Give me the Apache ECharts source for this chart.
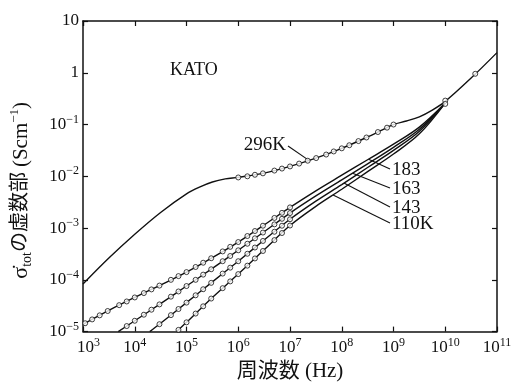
<!DOCTYPE html>
<html>
<head>
<meta charset="utf-8">
<script src="https://cdn.jsdelivr.net/npm/echarts@6/dist/echarts.min.js"></script>
<style>
  html, body { margin: 0; padding: 0; background: #fff; }
  #chart { width: 518px; height: 387px; }
</style>
</head>
<body>
<div id="chart"></div>
<script>
// ---- smooth curves: frequency (Hz) and imaginary part of sigma_tot (S/cm) ----
const curveFreq296  = [1e3, 3.16e3, 1e4, 3.16e4, 1e5, 1.78e5, 3.16e5, 5.62e5, 1e6, 3.16e6, 1e7, 3.16e7, 1e8, 3.16e8, 5.62e8, 1e9, 1.78e9, 3.16e9, 5.62e9, 1e10, 3.16e10, 1e11];
const curveSigma296 = [8.3e-5, 2.63e-4, 7.59e-4, 2.0e-3, 4.57e-3, 6.17e-3, 7.76e-3, 8.91e-3, 9.55e-3, 1.15e-2, 1.55e-2, 2.24e-2, 3.47e-2, 5.75e-2, 7.59e-2, 0.1, 0.117, 0.141, 0.19, 0.28, 0.79, 2.45];

const curveFreq183  = [1e3, 3.16e3, 1e4, 3.16e4, 1e5, 3.16e5, 1e6, 3.16e6, 1e7, 3.16e7, 1e8, 3.16e8, 1e9, 3.16e9, 1e10];
const curveSigma183 = [1.38e-5, 2.57e-5, 4.57e-5, 7.94e-5, 1.41e-4, 2.69e-4, 5.37e-4, 1.15e-3, 2.51e-3, 5.25e-3, 1.05e-2, 2.09e-2, 4.17e-2, 8.9e-2, 0.26];

const curveFreq163  = [4.8e3, 1e4, 3.16e4, 1e5, 3.16e5, 1e6, 3.16e6, 1e7, 3.16e7, 1e8, 3.16e8, 1e9, 3.16e9, 1e10];
const curveSigma163 = [1e-5, 1.62e-5, 3.47e-5, 7.59e-5, 1.66e-4, 3.72e-4, 8.51e-4, 1.95e-3, 4.17e-3, 8.51e-3, 1.74e-2, 3.63e-2, 8.13e-2, 0.26];

const curveFreq143  = [1.95e4, 3.16e4, 1e5, 3.16e5, 1e6, 3.16e6, 1e7, 3.16e7, 1e8, 3.16e8, 1e9, 3.16e9, 1e10];
const curveSigma143 = [1e-5, 1.45e-5, 3.63e-5, 9.12e-5, 2.29e-4, 5.89e-4, 1.48e-3, 3.31e-3, 6.92e-3, 1.48e-2, 3.16e-2, 7.41e-2, 0.26];

const curveFreq110  = [6.46e4, 1e5, 3.16e5, 1e6, 3.16e6, 1e7, 3.16e7, 1e8, 3.16e8, 1e9, 3.16e9, 1e10];
const curveSigma110 = [1e-5, 1.51e-5, 4.57e-5, 1.29e-4, 3.8e-4, 1.12e-3, 2.63e-3, 5.62e-3, 1.23e-2, 2.69e-2, 6.61e-2, 0.26];

// ---- measured points (open circles) ----
const markFreq296  = [1e6, 1.5e6, 2.1e6, 3e6, 5e6, 7e6, 1e7, 1.5e7, 2.2e7, 3.2e7, 5e7, 7e7, 1e8, 1.4e8, 2.1e8, 3e8, 5e8, 7.5e8, 1e9, 1e10, 3.8e10];
const markSigma296 = [9.5e-3, 1.0e-2, 1.07e-2, 1.14e-2, 1.29e-2, 1.41e-2, 1.55e-2, 1.76e-2, 2.0e-2, 2.25e-2, 2.63e-2, 3.02e-2, 3.47e-2, 3.98e-2, 4.79e-2, 5.62e-2, 7.16e-2, 8.7e-2, 0.1, 0.29, 0.955];

const markFreq183  = [1.1e3, 1.5e3, 2.1e3, 3e3, 5e3, 7e3, 1e4, 1.5e4, 2.1e4, 3e4, 5e4, 7e4, 1e5, 1.5e5, 2.1e5, 3e5, 5e5, 7e5, 1e6, 1.5e6, 2.1e6, 3e6, 5e6, 7e6, 1e7, 1e10];
const markSigma183 = [1.45e-5, 1.72e-5, 2.06e-5, 2.50e-5, 3.24e-5, 3.82e-5, 4.57e-5, 5.55e-5, 6.53e-5, 7.74e-5, 1.0e-4, 1.18e-4, 1.41e-4, 1.77e-4, 2.14e-4, 2.61e-4, 3.54e-4, 4.34e-4, 5.37e-4, 7.02e-4, 8.77e-4, 1.11e-3, 1.57e-3, 1.97e-3, 2.51e-3, 0.25];

const markFreq163  = [7e3, 1e4, 1.5e4, 2.1e4, 3e4, 5e4, 7e4, 1e5, 1.5e5, 2.1e5, 3e5, 5e5, 7e5, 1e6, 1.5e6, 2.1e6, 3e6, 5e6, 7e6, 1e7];
const markSigma163 = [1.28e-5, 1.62e-5, 2.12e-5, 2.65e-5, 3.35e-5, 4.73e-5, 5.96e-5, 7.59e-5, 1.0e-4, 1.26e-4, 1.60e-4, 2.29e-4, 2.89e-4, 3.72e-4, 4.98e-4, 6.34e-4, 8.19e-4, 1.18e-3, 1.51e-3, 1.95e-3];

const markFreq143  = [3e4, 5e4, 7e4, 1e5, 1.5e5, 2.1e5, 3e5, 5e5, 7e5, 1e6, 1.5e6, 2.1e6, 3e6, 5e6, 7e6, 1e7];
const markSigma143 = [1.39e-5, 2.08e-5, 2.73e-5, 3.63e-5, 5.02e-5, 6.58e-5, 8.75e-5, 1.32e-4, 1.72e-4, 2.29e-4, 3.19e-4, 4.21e-4, 5.64e-4, 8.49e-4, 1.11e-3, 1.48e-3];

const markFreq110  = [7e4, 1e5, 1.5e5, 2.1e5, 3e5, 5e5, 7e5, 1e6, 1.5e6, 2.1e6, 3e6, 5e6, 7e6, 1e7];
const markSigma110 = [1.08e-5, 1.51e-5, 2.23e-5, 3.08e-5, 4.35e-5, 6.90e-5, 9.33e-5, 1.29e-4, 1.88e-4, 2.59e-4, 3.61e-4, 5.85e-4, 8.02e-4, 1.12e-3];

// ---- temperature labels: text, label anchor (px), point on its curve (Hz, S/cm) ----
const tempLabels = ['296K', '183', '163', '143', '110K'];
const labelAnchorPx = [[288, 146], [390, 169], [390, 188], [390, 207], [390, 223]];
const labelCurveFreq  = [2.32e7, 3.3e8, 1.62e8, 1.1e8, 6.8e7];
const labelCurveSigma = [2.03e-2, 2.14e-2, 1.15e-2, 7.4e-3, 4.37e-3];

const SERIF = '"Liberation Serif", "DejaVu Serif", "Noto Sans CJK JP", serif';

function pairs(xs, ys) { return xs.map((x, i) => [x, ys[i]]); }

function curve(xs, ys) {
  return {
    type: 'line', data: pairs(xs, ys), smooth: 0.35, showSymbol: false,
    lineStyle: { color: '#111', width: 1.4 }, silent: true, z: 2
  };
}
function marks(xs, ys) {
  return {
    type: 'scatter', data: pairs(xs, ys), symbol: 'circle', symbolSize: 5,
    itemStyle: { color: '#fff', borderColor: '#111', borderWidth: 1 }, silent: true, z: 3
  };
}

const supRich = {
  p: { width: 11 },
  b: { fontFamily: SERIF, fontSize: 17, lineHeight: 22, color: '#111' },
  s: { fontFamily: SERIF, fontSize: 12, lineHeight: 11, verticalAlign: 'top', color: '#111' }
};

function expOf(v) { return Math.round(Math.log10(v)); }

const tickStyle = { inside: true, length: 5, lineStyle: { color: '#111', width: 1.2 } };
const lineStyle = { show: true, lineStyle: { color: '#111', width: 1.5 } };

const chart = echarts.init(document.getElementById('chart'), null, { renderer: 'canvas' });

chart.setOption({
  animation: false,
  backgroundColor: '#fff',
  grid: { left: 81, right: 21, top: 21, bottom: 52 },
  xAxis: [
    {
      type: 'log', logBase: 10, min: 1e3, max: 1e11, position: 'bottom',
      axisLine: lineStyle, axisTick: tickStyle, splitLine: { show: false },
      axisLabel: {
        margin: 5, rich: supRich,
        // the first label sits clear of the corner, nudged right
        formatter: v => {
          const e = expOf(v);
          return (e === 3 ? '{p|}' : '') + '{b|10}{s|' + e + '}';
        }
      },
      name: '{t|周波数 (Hz)}', nameLocation: 'middle', nameGap: 26,
      nameTextStyle: { rich: { t: { fontFamily: SERIF, fontSize: 21, color: '#111' } } }
    },
    {
      type: 'log', logBase: 10, min: 1e3, max: 1e11, position: 'top',
      axisLine: lineStyle, axisTick: tickStyle, splitLine: { show: false },
      axisLabel: { show: false }
    }
  ],
  yAxis: [
    {
      type: 'log', logBase: 10, min: 1e-5, max: 10, position: 'left',
      axisLine: lineStyle, axisTick: tickStyle, splitLine: { show: false },
      axisLabel: {
        margin: 4, rich: supRich,
        formatter: v => {
          const e = expOf(v);
          if (e === 1) return '{b|10}';
          if (e === 0) return '{b|1}';
          return '{b|10}{s|\u2212' + (-e) + '}';
        }
      },
      name: '{g|\u03C3\u0307}{sub|tot}{j|の虚数部 }{t|(Scm}{sup|\u22121}{t|)}',
      nameLocation: 'middle', nameRotate: 90, nameGap: 49,
      nameTextStyle: {
        padding: [0, 28, 0, 0],
        rich: {
          g: { fontFamily: SERIF, fontSize: 22, lineHeight: 26, color: '#111' },
          sub: { fontFamily: SERIF, fontSize: 14, lineHeight: 21, verticalAlign: 'bottom', color: '#111' },
          j: { fontFamily: SERIF, fontSize: 20, lineHeight: 26, color: '#111' },
          t: { fontFamily: SERIF, fontSize: 21, lineHeight: 26, color: '#111' },
          sup: { fontFamily: SERIF, fontSize: 13, lineHeight: 14, verticalAlign: 'top', color: '#111' }
        }
      }
    },
    {
      type: 'log', logBase: 10, min: 1e-5, max: 10, position: 'right',
      axisLine: lineStyle, axisTick: tickStyle, splitLine: { show: false },
      axisLabel: { show: false }
    }
  ],
  series: [
    curve(curveFreq296, curveSigma296),
    curve(curveFreq183, curveSigma183),
    curve(curveFreq163, curveSigma163),
    curve(curveFreq143, curveSigma143),
    curve(curveFreq110, curveSigma110),
    marks(markFreq296, markSigma296),
    marks(markFreq183, markSigma183),
    marks(markFreq163, markSigma163),
    marks(markFreq143, markSigma143),
    marks(markFreq110, markSigma110)
  ]
});

// Temperature annotations with leader lines to their curves
const graphics = [{
  type: 'text', left: 170, top: 61,
  style: { text: 'KATO', font: '18px ' + SERIF, fill: '#111' }
}];
tempLabels.forEach((txt, i) => {
  const p = chart.convertToPixel({ xAxisIndex: 0, yAxisIndex: 0 }, [labelCurveFreq[i], labelCurveSigma[i]]);
  const a = labelAnchorPx[i];
  graphics.push({
    type: 'line', silent: true,
    shape: { x1: a[0], y1: a[1], x2: p[0], y2: p[1] },
    style: { stroke: '#111', lineWidth: 1.1 }
  });
  const leftSide = p[0] < a[0];
  graphics.push({
    type: 'text', silent: true,
    x: leftSide ? a[0] + 2 : a[0] - 2, y: a[1] + (leftSide ? 1 : -1),
    style: {
      text: txt, font: '19px ' + SERIF, fill: '#111',
      textAlign: leftSide ? 'left' : 'right', textVerticalAlign: 'middle'
    }
  });
});
chart.setOption({ graphic: graphics });
</script>
</body>
</html>
